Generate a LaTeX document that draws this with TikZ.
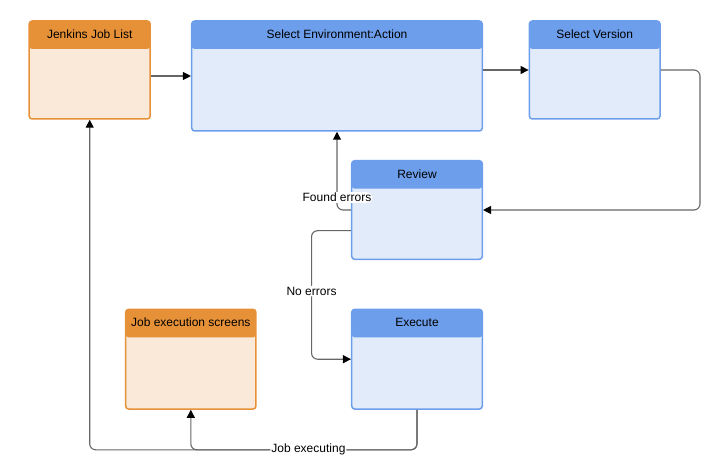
\documentclass[tikz,border=0pt]{standalone}
\usepackage{fontspec}
\setmainfont{Liberation Sans}
\usepackage{tikz}
\usetikzlibrary{arrows.meta}

\definecolor{orangehead}{RGB}{230,145,56}
\definecolor{orangebody}{RGB}{250,233,216}
\definecolor{bluehead}{RGB}{109,158,235}
\definecolor{bluebody}{RGB}{225,235,250}

\tikzset{
  orangebox/.style={draw=orangehead, fill=orangebody, line width=1.5pt,
    rounded corners=3pt, inner sep=0pt,
    path picture={\fill[orangehead] (path picture bounding box.north west)
      rectangle ([yshift=-28pt]path picture bounding box.north east);}},
  bluebox/.style={draw=bluehead, fill=bluebody, line width=1.5pt,
    rounded corners=3pt, inner sep=0pt,
    path picture={\fill[bluehead] (path picture bounding box.north west)
      rectangle ([yshift=-28pt]path picture bounding box.north east);}},
  title/.style={font=\fontsize{12}{14}\selectfont, inner sep=1pt},
  conn/.style={draw=black!60, line width=1.1pt, rounded corners=6pt,
    -{Triangle[length=8pt,width=8pt,color=black]}},
  edgelabel/.style={fill=white, font=\fontsize{12}{14}\selectfont, inner sep=1pt}
}

\begin{document}
\begin{tikzpicture}[x=1pt, y=-1pt]

  \useasboundingbox (0,0) rectangle (724,476);

  \node [orangebox, minimum width=121pt, minimum height=98pt] (jobs) at (89.7,70) {};
  \node [title] at ([yshift=-14pt]jobs.north) {Jenkins Job List};

  \node [bluebox, minimum width=290.6pt, minimum height=110pt] (env) at (337,76) {};
  \node [title] at ([yshift=-14pt]env.north) {Select Environment:Action};

  \node [bluebox, minimum width=130.7pt, minimum height=98pt] (version) at (594.7,70) {};
  \node [title] at ([yshift=-14pt]version.north) {Select Version};

  \node [bluebox, minimum width=130.6pt, minimum height=98.6pt] (review) at (417,210) {};
  \node [title] at ([yshift=-14pt]review.north) {Review};

  \node [orangebox, minimum width=130.3pt, minimum height=99.7pt] (screens) at (190.8,359.2) {};
  \node [title] at ([yshift=-14pt]screens.north) {Job execution screens};

  \node [bluebox, minimum width=130.6pt, minimum height=99.7pt] (execute) at (417,359.2) {};
  \node [title] at ([yshift=-14pt]execute.north) {Execute};

  \draw [conn] ([yshift=-6pt]jobs.east) -- ([yshift=-6pt]jobs.east -| env.west);
  \draw [conn] (version.west -| env.east) -- (version.west);
  \draw [conn] (version.east) -- (700,70) |- (review.east);
  \draw [conn] (review.west) -| (env.south)
    node [edgelabel, pos=0.58] {Found errors};
  \draw [conn] ([yshift=-20.7pt]review.west) -- ++(-39.4,0) |- (execute.west)
    node [edgelabel, pos=0.235] {No errors};
  \draw [conn] (execute.south) -- ++(0,40) -| (jobs.south);
  \draw [conn] (execute.south) -- ++(0,40) -| (screens.south)
    node [edgelabel, pos=0.24] {Job executing};

\end{tikzpicture}
\end{document}
